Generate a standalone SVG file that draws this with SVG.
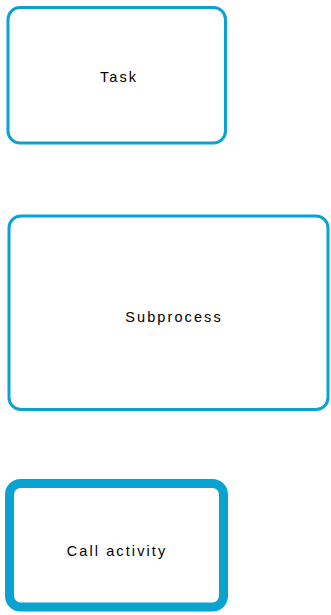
<svg xmlns="http://www.w3.org/2000/svg" width="331" height="615" viewBox="0 0 331 615">
<style>
.box{fill:#ffffff;stroke:#08a3d1;}
.thin{stroke-width:3;}
.thick{stroke-width:9;}
.lbl{font-family:"Liberation Sans",Arial,sans-serif;font-size:14.5px;letter-spacing:2.1px;fill:#000000;text-anchor:middle;}
</style>
<rect width="331" height="615" fill="#ffffff"/>
<g id="connectors"></g>
<g id="task">
<rect class="box thin" x="8" y="7.5" width="217.5" height="135.5" rx="12" ry="12"/>
<text class="lbl" x="119" y="82">Task</text>
</g>
<g id="subprocess">
<rect class="box thin" x="9" y="216" width="319" height="193.5" rx="12" ry="12"/>
<text class="lbl" x="174" y="322">Subprocess</text>
</g>
<g id="callactivity">
<rect class="box thick" x="9.5" y="483.5" width="214" height="123.5" rx="11" ry="11"/>
<text class="lbl" x="117" y="556">Call activity</text>
</g>
</svg>
